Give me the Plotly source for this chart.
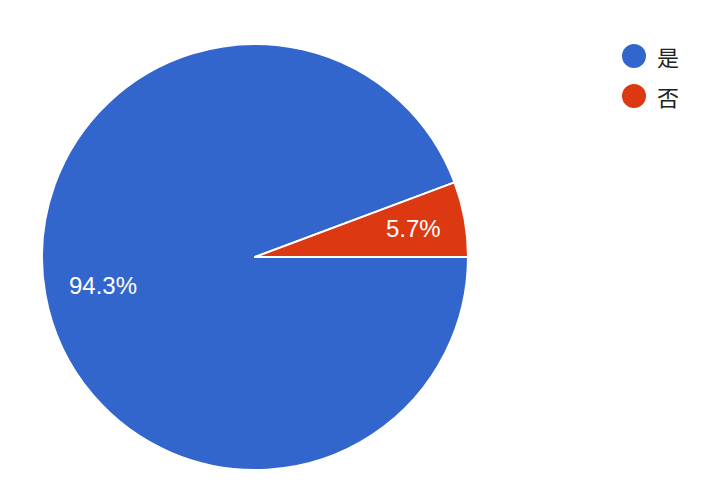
import math
import plotly.graph_objects as go

categories = ["是", "否"]
values = [94.3, 5.7]
colors = ["#3366cc", "#dc3912"]

W, H = 719, 499
OFF = 8  # page offset of the plot in the browser
cx, cy, r = 255 - OFF, 257 - OFF, 213

fig = go.Figure()
fig.add_trace(go.Pie(
    labels=categories,
    values=values,
    sort=False,
    direction="clockwise",
    rotation=90,
    marker=dict(colors=colors, line=dict(color="white", width=2)),
    textinfo="none",
    showlegend=False,
    hoverinfo="label+percent",
    domain=dict(x=[(cx - r) / W, (cx + r) / W], y=[(H - cy - r) / H, (H - cy + r) / H]),
))

# slice labels placed along each slice's mid-angle; slices start at 3 o'clock, going clockwise
total = sum(values)
a0 = 0.0
angles = []
for v in values:
    span = 360.0 * v / total
    angles.append(a0 - span / 2)
    a0 -= span
for v, mid in zip(values, angles):
    rad = math.radians(mid)
    px = cx + 3 + 0.74 * r * math.cos(rad)
    py = cy - 0.74 * r * math.sin(rad)
    fig.add_annotation(xref="paper", yref="paper", x=px / W, y=(H - py) / H,
                       text=f"{100 * v / total:.1f}%", showarrow=False,
                       xanchor="center", yanchor="middle",
                       font=dict(family="Arial, Liberation Sans, sans-serif", size=24, color="white"))

# legend built from categories
for i, (cat, col) in enumerate(zip(categories, colors)):
    yc = 56 - OFF + 40 * i
    fig.add_shape(type="circle", xref="paper", yref="paper",
                  x0=(622 - OFF) / W, x1=(646 - OFF) / W, y0=(H - yc - 12) / H, y1=(H - yc + 12) / H,
                  fillcolor=col, line=dict(width=0))
    fig.add_annotation(xref="paper", yref="paper", x=(655 - OFF) / W, y=(H - yc) / H,
                       text=cat, showarrow=False, xanchor="left", yanchor="middle",
                       font=dict(family="Noto Sans CJK SC", size=22, color="#222222"))

fig.update_layout(
    width=W, height=H,
    margin=dict(l=0, r=0, t=0, b=0),
    paper_bgcolor="white", plot_bgcolor="white",
)
fig.write_html("out.html")
